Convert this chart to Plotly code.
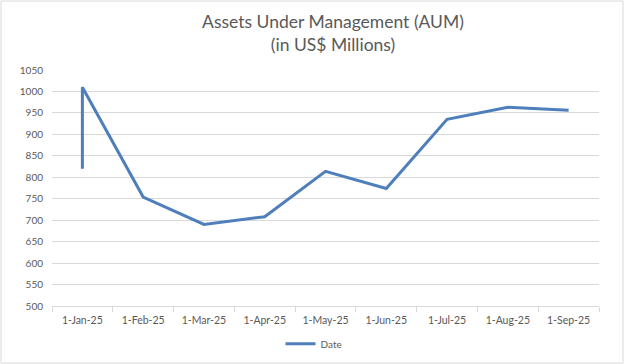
import plotly.graph_objects as go

dates = ["1-Jan-25", "1-Jan-25", "1-Feb-25", "1-Mar-25", "1-Apr-25", "1-May-25",
         "1-Jun-25", "1-Jul-25", "1-Aug-25", "1-Sep-25"]
aum = [820, 1010, 754, 690, 708, 814, 774, 935, 963, 956]
categories = ["1-Jan-25", "1-Feb-25", "1-Mar-25", "1-Apr-25", "1-May-25",
              "1-Jun-25", "1-Jul-25", "1-Aug-25", "1-Sep-25"]
y_ticks = list(range(500, 1051, 50))

W, H = 624, 364
ml, mr, mt, mb = 52, 25, 70, 58
pw, ph = W - ml - mr, H - mt - mb

fig = go.Figure()
fig.add_trace(go.Scatter(x=dates, y=aum, mode="lines", name="Date",
                         line=dict(color="#4f7fbb", width=3)))

font = "Lato, 'Open Sans', sans-serif"
fig.update_layout(
    width=W, height=H,
    margin=dict(l=ml, r=mr, t=mt, b=mb, autoexpand=False),
    paper_bgcolor="white", plot_bgcolor="white",
    title=dict(text="Assets Under Management (AUM)<br>(in US$ Millions)",
               xref="paper", x=(333 - ml) / pw, xanchor="center",
               yref="container", y=1 - 28 / H, yanchor="middle",
               font=dict(family=font, size=17.5, color="#595959")),
    showlegend=True,
    legend=dict(orientation="h", x=(314 - ml) / pw, xanchor="center", y=-0.098, yanchor="top",
                font=dict(family=font, size=10, color="#595959")),
    xaxis=dict(type="category", categoryorder="array", categoryarray=categories,
               range=[-0.5, len(categories) - 0.5], automargin=False,
               showgrid=False, showline=True, linecolor="#d9d9d9",
               ticks="outside", tickson="boundaries", ticklen=5, tickcolor="#d9d9d9",
               ticklabelstandoff=4,
               tickfont=dict(family=font, size=10.5, color="#595959")),
    yaxis=dict(range=[500, 1050], tickvals=y_ticks, showgrid=True, gridcolor="#d9d9d9",
               zeroline=False, showline=False, ticks="", automargin=False,
               ticklabelstandoff=8,
               tickfont=dict(family=font, size=10, color="#595959")),
    shapes=[dict(type="rect", xref="paper", yref="paper",
                 x0=-(ml - 1) / pw, x1=1 + (mr - 1) / pw,
                 y0=-(mb - 1) / ph, y1=1 + (mt - 1) / ph,
                 line=dict(color="#d9d9d9", width=1))],
)
fig.write_html("out.html", config={"displayModeBar": False},
               post_script="document.body.style.margin='0';document.body.style.overflow='hidden';")
